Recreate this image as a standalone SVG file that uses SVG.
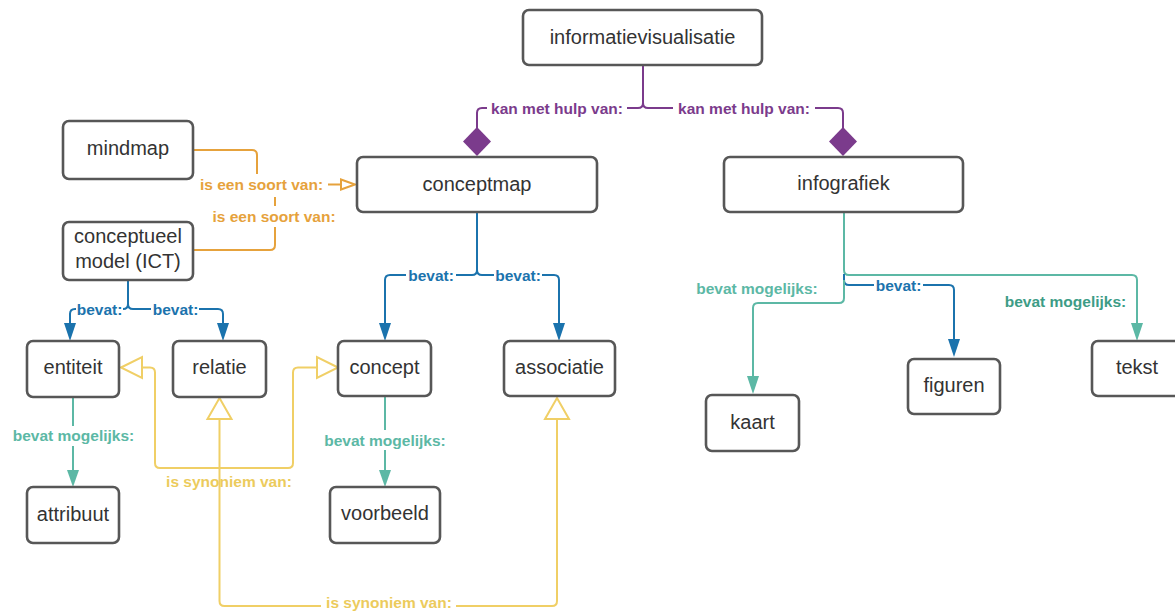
<svg xmlns="http://www.w3.org/2000/svg" width="1175" height="612" viewBox="0 0 1175 612">
<defs>
<style>
.box{fill:#fff;stroke:#575757;stroke-width:2.6}
.nt{font-family:"Liberation Sans",Arial,sans-serif;font-size:20px;fill:#333;text-anchor:middle}
.lb{font-family:"Liberation Sans",Arial,sans-serif;font-size:15.5px;font-weight:bold;text-anchor:middle}
.c{fill:none;stroke-width:2}
.pu{stroke:#7b3b8c}.puf{fill:#7b3b8c}
.or{stroke:#e6a23c}.orf{fill:#e6a23c}
.ye{stroke:#f0cf66}.yef{fill:#eccb5c}
.bl{stroke:#1b73ad}.blf{fill:#1b73ad}
.te{stroke:#5cb8a5}.tef{fill:#5cb8a5}.tef2{fill:#3d9c86}
.hol{fill:#fff;stroke-width:2}
</style>
</defs>
<g id="connectors">
<path class="c pu" d="M643,65 V103 Q643,108 638,108 H627 M487,108 H482 Q477,108 477,113 V128"/>
<path class="c pu" d="M643,103 Q643,108 648,108 H673 M815,108 H838 Q843,108 843,113 V128"/>
<polygon class="puf" points="477,127 491,141.5 477,156 463,141.5"/>
<polygon class="puf" points="843,127 857,141.5 843,156 829,141.5"/>
<text class="lb puf" x="557" y="113.5">kan met hulp van:</text>
<text class="lb puf" x="744" y="113.5">kan met hulp van:</text>
<path class="c or" d="M193,150 H252 Q257,150 257,155 V174 M328,184.5 H341"/>
<path class="c or" d="M193,250 H270 Q275,250 275,245 V227 M275,197 V206"/>
<polygon class="hol or" points="341,179.5 355,184.5 341,189.5"/>
<text class="lb orf" x="261.5" y="190">is een soort van:</text>
<text class="lb orf" x="274" y="222">is een soort van:</text>
<path class="c bl" d="M128,280 V304 Q128,309 123,309 M128,304 Q128,309 133,309 H151 M76,309 H75 Q70,309 70,314 V324 M199,309 H218 Q223,309 223,314 V324"/>
<polygon class="blf" points="64,323 76,323 70,341"/>
<polygon class="blf" points="217,323 229,323 223,341"/>
<text class="lb blf" x="99.5" y="314.5">bevat:</text>
<text class="lb blf" x="175.5" y="314.5">bevat:</text>
<path class="c bl" d="M477,212 V270 Q477,275 472,275 H456 M477,270 Q477,275 482,275 H494 M406,275 H390 Q385,275 385,280 V324 M542,275 H554 Q559,275 559,280 V324"/>
<polygon class="blf" points="379,323 391,323 385,341"/>
<polygon class="blf" points="553,323 565,323 559,341"/>
<text class="lb blf" x="431" y="280.5">bevat:</text>
<text class="lb blf" x="518" y="280.5">bevat:</text>
<path class="c te" d="M73,397 V426 M73,446 V471"/>
<polygon class="tef" points="67,470 79,470 73,487"/>
<text class="lb tef" x="73.5" y="440.5">bevat mogelijks:</text>
<path class="c te" d="M385,396 V430 M385,450 V471"/>
<polygon class="tef" points="379,470 391,470 385,487"/>
<text class="lb tef" x="385" y="445.5">bevat mogelijks:</text>
<path class="c ye" d="M142,367.5 H150 Q155,367.5 155,372.5 V463 Q155,468 160,468 H288 Q293,468 293,463 V372.5 Q293,367.5 298,367.5 H317"/>
<polygon class="hol ye" points="121,367.5 142,357 142,378"/>
<polygon class="hol ye" points="338,367.5 317,357 317,378"/>
<text class="lb yef" x="229" y="487">is synoniem van:</text>
<path class="c ye" d="M219.5,419 V601 Q219.5,606 224.5,606 H321 M456,606 H552 Q557,606 557,601 V419"/>
<polygon class="hol ye" points="219.5,398 231.5,419 207.5,419"/>
<polygon class="hol ye" points="557,398 569,419 545,419"/>
<text class="lb yef" x="389" y="608">is synoniem van:</text>
<path class="c te" d="M844,212 V270 Q844,275 849,275 H1132 Q1137,275 1137,280 V324"/>
<polygon class="tef" points="1131,323 1143,323 1137,341"/>
<text class="lb tef2" x="1065.5" y="306.5">bevat mogelijks:</text>
<path class="c bl" d="M844,274 V280 Q844,285 849,285 H874 M923,285 H949 Q954,285 954,290 V340"/>
<polygon class="blf" points="948,339 960,339 954,357"/>
<text class="lb blf" x="898.5" y="290.5">bevat:</text>
<path class="c te" d="M844,280 V298 Q844,303 839,303 H758 Q753,303 753,308 V377"/>
<polygon class="tef" points="747,376 759,376 753,394"/>
<text class="lb tef" x="757" y="293.5">bevat mogelijks:</text>
</g>
<g id="n-informatievisualisatie"><rect class="box" x="523" y="10" width="239" height="55" rx="6"/><text class="nt" x="642.5" y="44">informatievisualisatie</text></g>
<g id="n-conceptmap"><rect class="box" x="357" y="157" width="240" height="55" rx="6"/><text class="nt" x="477" y="191">conceptmap</text></g>
<g id="n-infografiek"><rect class="box" x="724" y="157" width="239" height="55" rx="6"/><text class="nt" x="843.5" y="190">infografiek</text></g>
<g id="n-mindmap"><rect class="box" x="63" y="121" width="130" height="58" rx="6"/><text class="nt" x="128" y="155">mindmap</text></g>
<g id="n-conceptueel"><rect class="box" x="63" y="222" width="130" height="58" rx="6"/><text class="nt" x="128" y="243">conceptueel</text><text class="nt" x="128" y="268">model (ICT)</text></g>
<g id="n-entiteit"><rect class="box" x="27" y="341" width="92" height="56" rx="6"/><text class="nt" x="73" y="374">entiteit</text></g>
<g id="n-relatie"><rect class="box" x="173" y="341" width="93" height="56" rx="6"/><text class="nt" x="219.5" y="374">relatie</text></g>
<g id="n-concept"><rect class="box" x="338" y="341" width="93" height="55" rx="6"/><text class="nt" x="384.5" y="374">concept</text></g>
<g id="n-associatie"><rect class="box" x="504" y="341" width="111" height="55" rx="6"/><text class="nt" x="559.5" y="374">associatie</text></g>
<g id="n-attribuut"><rect class="box" x="27" y="487" width="92" height="56" rx="6"/><text class="nt" x="73" y="521">attribuut</text></g>
<g id="n-voorbeeld"><rect class="box" x="330" y="487" width="110" height="56" rx="6"/><text class="nt" x="385" y="520">voorbeeld</text></g>
<g id="n-kaart"><rect class="box" x="706" y="395" width="93" height="56" rx="6"/><text class="nt" x="752.5" y="429">kaart</text></g>
<g id="n-figuren"><rect class="box" x="908" y="359" width="92" height="55" rx="6"/><text class="nt" x="954" y="392">figuren</text></g>
<g id="n-tekst"><rect class="box" x="1092" y="341" width="90" height="55" rx="6"/><text class="nt" x="1137" y="374">tekst</text></g>
</svg>
